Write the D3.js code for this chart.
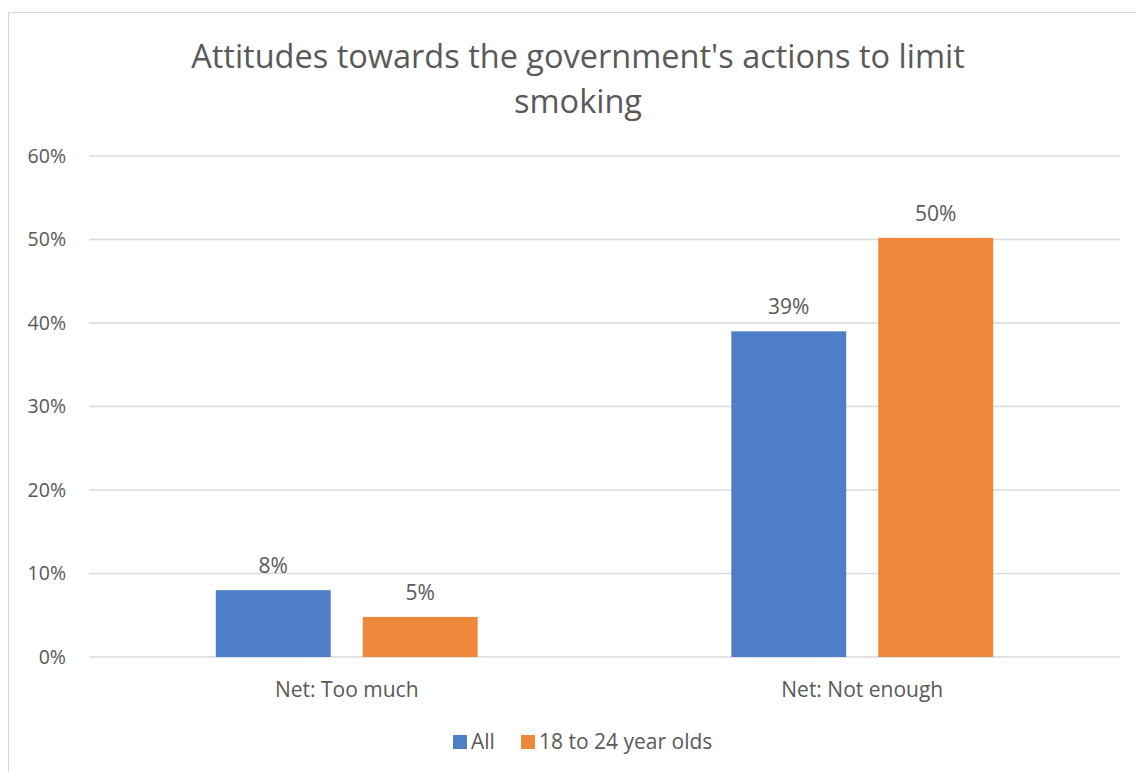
<!DOCTYPE html>
<html>
<head>
<meta charset="utf-8">
<script src="https://cdn.jsdelivr.net/npm/d3@7"></script>
<style>
	body { margin: 0; background: #fff; }
	svg text { font-family: "Open Sans", sans-serif; fill: #595959; }
</style>
</head>
<body>
<div id="chart"></div>
<script>
// chart data
var title_lines = ["Attitudes towards the government's actions to limit", "smoking"];
var categories = ["Net: Too much", "Net: Not enough"];
var series_names = ["All", "18 to 24 year olds"];
var series_colors = ["#4f7ec9", "#ef883b"];
var values_all = [0.08, 0.39];
var values_young = [0.048, 0.502];
var y_ticks = [0, 0.1, 0.2, 0.3, 0.4, 0.5, 0.6];

var width = 1136, height = 772;
var plot = {left: 89, right: 1120, top: 156, bottom: 657};
var font_small = 21;

var svg = d3.select("#chart").append("svg")
	.attr("width", width)
	.attr("height", height);

// chart frame (only left and top edges are visible in the picture)
svg.append("rect")
	.attr("x", 8.5).attr("y", 12.5)
	.attr("width", width + 20).attr("height", height + 20)
	.attr("fill", "#fff")
	.attr("stroke", "#d9d9d9")
	.attr("stroke-width", 1);

var y = d3.scaleLinear().domain([0, 0.6]).range([plot.bottom, plot.top]);

var x0 = d3.scaleBand().domain(categories).range([plot.left, plot.right]);
var group_width = x0.bandwidth() * 0.508;
var x1 = d3.scaleBand().domain(series_names)
	.range([-group_width / 2, group_width / 2])
	.paddingInner(0.218);

// gridlines
svg.append("g").selectAll("line")
	.data(y_ticks)
	.join("line")
		.attr("x1", plot.left).attr("x2", plot.right)
		.attr("y1", function(d){ return y(d); })
		.attr("y2", function(d){ return y(d); })
		.attr("stroke", "#d9d9d9")
		.attr("stroke-width", 1.5);

// y axis labels
svg.append("g").selectAll("text")
	.data(y_ticks)
	.join("text")
		.attr("x", 66)
		.attr("y", function(d){ return y(d); })
		.attr("dy", "0.35em")
		.attr("text-anchor", "end")
		.attr("font-size", 19.5)
		.text(d3.format(".0%"));

// bars
var rows = [];
categories.forEach(function(c, i){
	rows.push({cat: c, series: series_names[0], value: values_all[i], color: series_colors[0]});
	rows.push({cat: c, series: series_names[1], value: values_young[i], color: series_colors[1]});
});

function barX(d) { return x0(d.cat) + x0.bandwidth() / 2 + x1(d.series); }

svg.append("g").selectAll("rect")
	.data(rows)
	.join("rect")
		.attr("x", barX)
		.attr("y", function(d){ return y(d.value); })
		.attr("width", x1.bandwidth())
		.attr("height", function(d){ return y(0) - y(d.value); })
		.attr("fill", function(d){ return d.color; });

// data labels
svg.append("g").selectAll("text")
	.data(rows)
	.join("text")
		.attr("x", function(d){ return barX(d) + x1.bandwidth() / 2; })
		.attr("y", function(d){ return y(d.value) - 17; })
		.attr("text-anchor", "middle")
		.attr("font-size", font_small)
		.text(function(d){ return d3.format(".0%")(d.value); });

// category labels
svg.append("g").selectAll("text")
	.data(categories)
	.join("text")
		.attr("x", function(d){ return x0(d) + x0.bandwidth() / 2; })
		.attr("y", 697)
		.attr("text-anchor", "middle")
		.attr("font-size", font_small)
		.text(function(d){ return d; });

// title
svg.append("g").selectAll("text")
	.data(title_lines)
	.join("text")
		.attr("x", 578)
		.attr("y", function(d, i){ return 68 + i * 45; })
		.attr("text-anchor", "middle")
		.attr("font-size", 32.5)
		.text(function(d){ return d; });

// legend
var legend = svg.append("g");
var legend_x = [453, 521];
series_names.forEach(function(s, i){
	legend.append("rect")
		.attr("x", legend_x[i]).attr("y", 735)
		.attr("width", 14).attr("height", 14)
		.attr("fill", series_colors[i]);
	legend.append("text")
		.attr("x", legend_x[i] + 18).attr("y", 749)
		.attr("font-size", font_small)
		.text(s);
});
</script>
</body>
</html>
